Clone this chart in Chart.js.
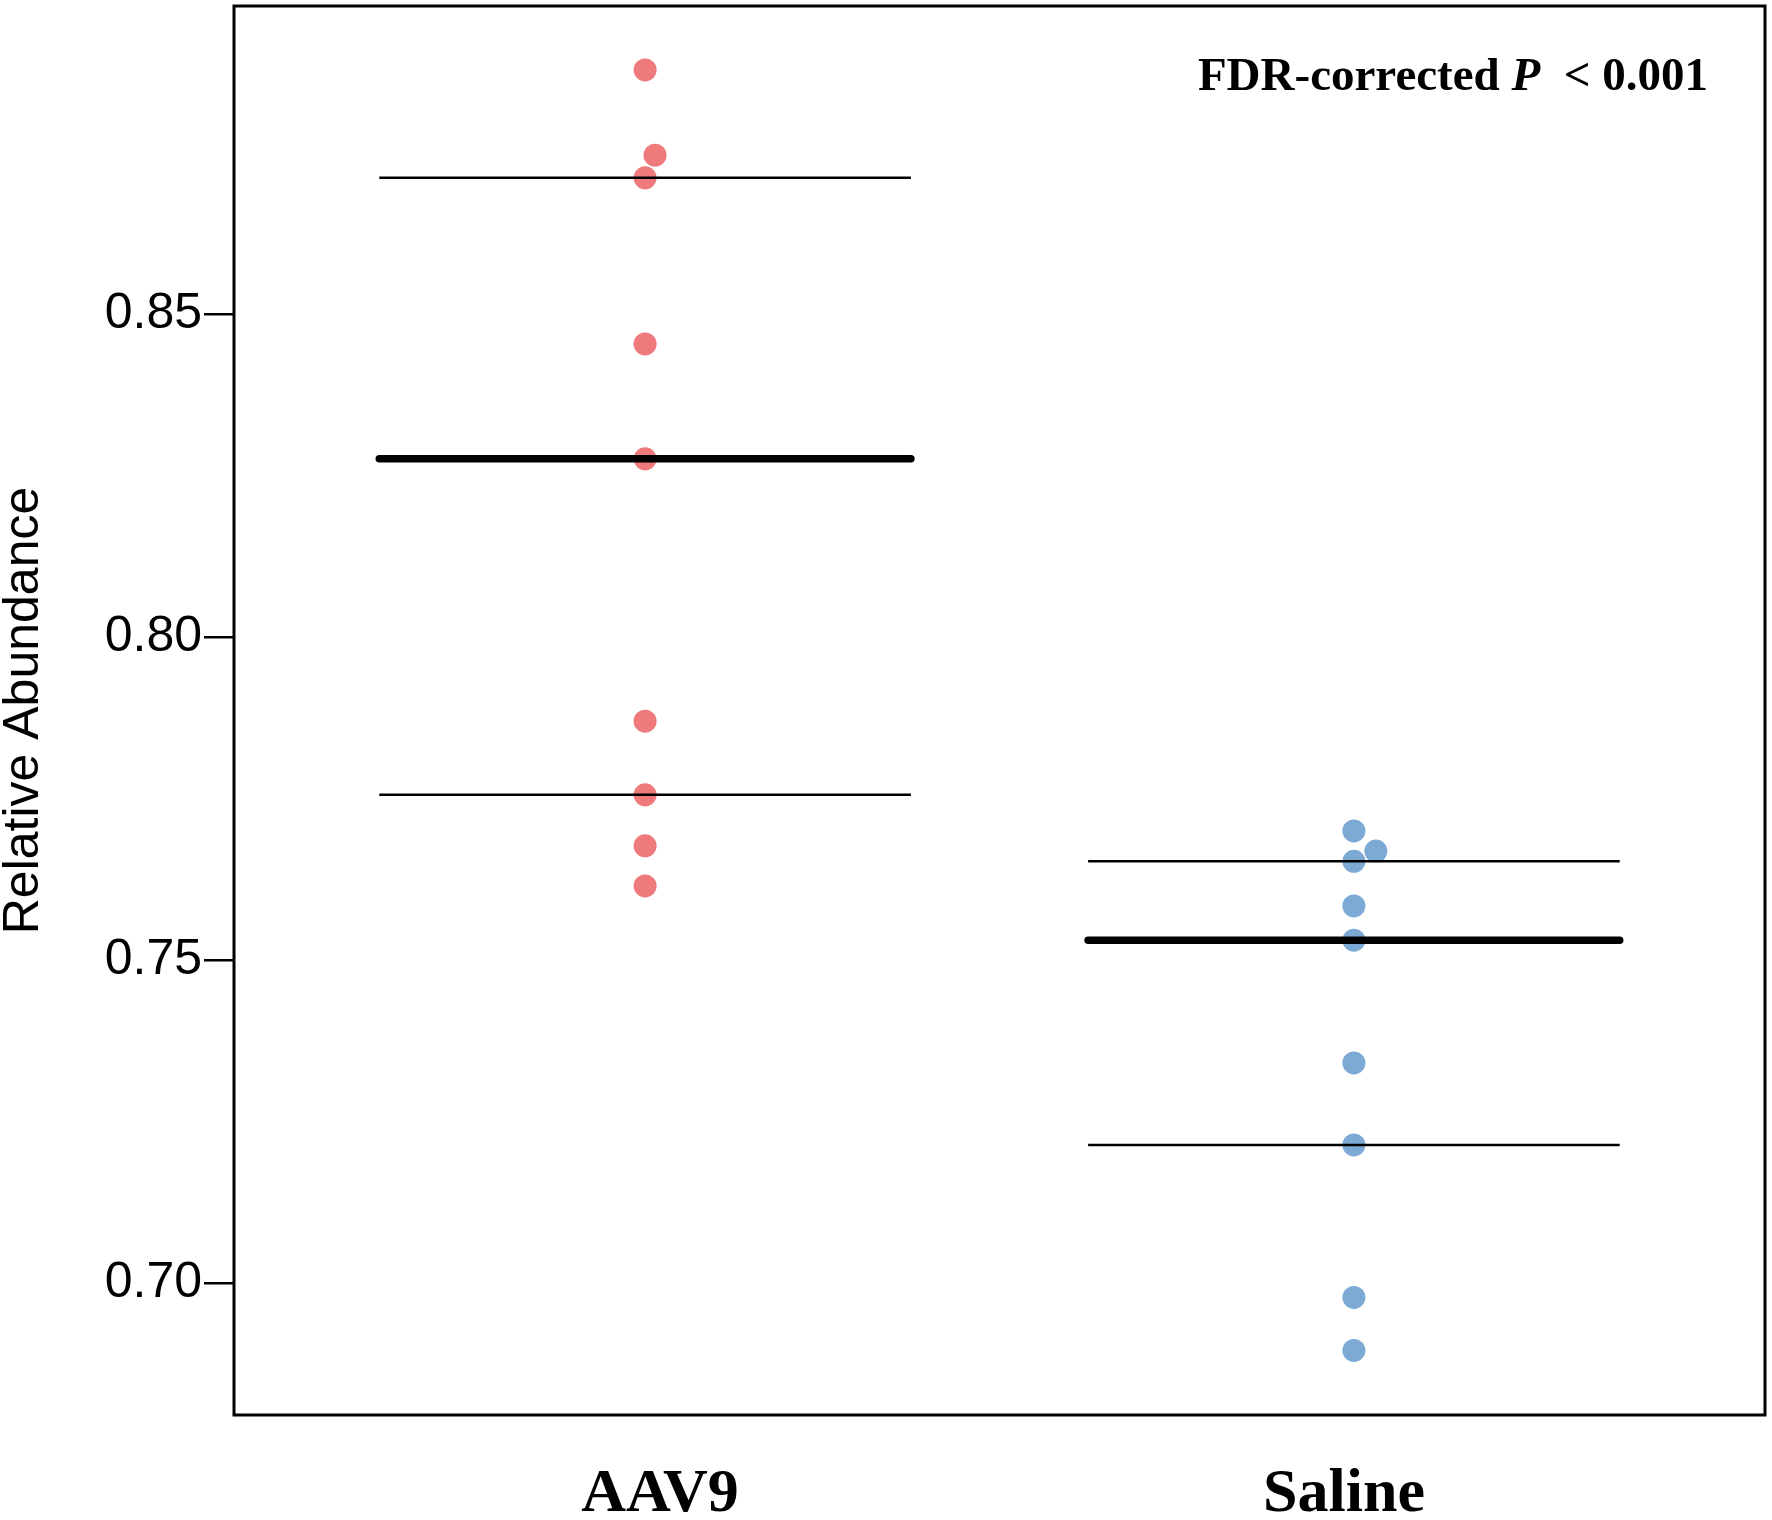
<!DOCTYPE html>
<html><head><meta charset="utf-8">
<script src="https://cdn.jsdelivr.net/npm/chart.js@4"></script>
<style>html,body{margin:0;padding:0;background:#fff}canvas{display:block}</style>
</head><body>
<canvas id="c" width="1772" height="1520"></canvas>
<script>
// ---- data ----
const groups = ['AAV9', 'Saline'];
const groupPos = [1, 2];
const labelPos = [1.021, 1.986];
const aav9Values = [0.8878, 0.8746, 0.8711, 0.8454, 0.8276, 0.7870, 0.7756, 0.7677, 0.7615];
const aav9Offsets = [0, 0.014, 0, 0, 0, 0, 0, 0, 0];
const salineValues = [0.7700, 0.7669, 0.7653, 0.7584, 0.7531, 0.7341, 0.7214, 0.6978, 0.6896];
const salineOffsets = [0, 0.031, 0, 0, 0, 0, 0, 0, 0];
const upperLines = [0.8711, 0.7653];
const medianLines = [0.8276, 0.7531];
const lowerLines = [0.7756, 0.7214];
const yTicks = [0.70, 0.75, 0.80, 0.85];
const annotation = ['FDR-corrected ', 'P', '  < 0.001'];

const halfLen = 0.375;
const colors = ['rgb(239,122,123)', 'rgb(125,170,212)'];
const valueSets = [aav9Values, salineValues];
const offsetSets = [aav9Offsets, salineOffsets];

const datasets = [];
function seg(g, v, w, cap) {
  return {
    type: 'line',
    data: [{x: groupPos[g] - halfLen, y: v}, {x: groupPos[g] + halfLen, y: v}],
    borderColor: '#000', borderWidth: w, borderCapStyle: cap,
    pointRadius: 0, fill: false, order: 0
  };
}
for (let g = 0; g < groups.length; g++) {
  datasets.push(seg(g, upperLines[g], 2.5, 'butt'));
  datasets.push(seg(g, lowerLines[g], 2.5, 'butt'));
  datasets.push(seg(g, medianLines[g], 7.5, 'round'));
}
for (let g = 0; g < groups.length; g++) {
  datasets.push({
    type: 'scatter',
    label: groups[g],
    data: valueSets[g].map((v, i) => ({x: groupPos[g] + offsetSets[g][i], y: v})),
    backgroundColor: colors[g], borderWidth: 0, pointRadius: 11.5, order: 1
  });
}

const boxPlugin = {
  id: 'boxAndText',
  afterDraw(chart) {
    const {ctx, chartArea: a} = chart;
    ctx.save();
    ctx.strokeStyle = '#000';
    ctx.lineWidth = 3;
    ctx.strokeRect(a.left, a.top, a.right - a.left, a.bottom - a.top);
    const fonts = ['bold 47px "Liberation Serif"', 'italic bold 47px "Liberation Serif"', 'bold 47px "Liberation Serif"'];
    let widths = annotation.map((t, i) => { ctx.font = fonts[i]; return ctx.measureText(t).width; });
    const total = widths.reduce((s, w) => s + w, 0);
    let x = a.right - 57 - total;
    const y = a.top + 84;
    ctx.fillStyle = '#000';
    ctx.textBaseline = 'alphabetic';
    ctx.textAlign = 'left';
    annotation.forEach((t, i) => { ctx.font = fonts[i]; ctx.fillText(t, x, y); x += widths[i]; });
    ctx.restore();
  }
};

new Chart(document.getElementById('c'), {
  data: {datasets},
  options: {
    responsive: false, animation: false, devicePixelRatio: 1,
    layout: {autoPadding: false, padding: {top: 6, right: 7, left: 0, bottom: 0}},
    plugins: {legend: {display: false}, tooltip: {enabled: false}},
    scales: {
      x: {
        type: 'linear', min: 0.42, max: 2.58,
        afterBuildTicks: s => { s.ticks = labelPos.map(v => ({value: v})); },
        afterFit: s => { s.height = 105; s.paddingLeft = 0; s.paddingRight = 0; },
        grid: {display: false, drawTicks: false},
        border: {display: false},
        ticks: {
          padding: 43, color: '#000',
          font: {family: '"Liberation Serif"', size: 62, weight: 'bold'},
          callback: (v) => { const i = labelPos.indexOf(v); return i >= 0 ? groups[i] : ''; }
        }
      },
      y: {
        type: 'linear', min: 0.6796, max: 0.8977,
        afterBuildTicks: s => { s.ticks = yTicks.map(v => ({value: v})); },
        afterFit: s => { s.width = 234; s.paddingTop = 0; s.paddingBottom = 0; },
        grid: {drawOnChartArea: false, drawTicks: true, tickLength: 30, color: '#000', lineWidth: 2.5},
        border: {display: false},
        ticks: {
          padding: 2, color: '#000',
          font: {family: '"Liberation Sans"', size: 50},
          callback: v => v.toFixed(2)
        },
        title: {
          display: true, text: 'Relative Abundance', color: '#000',
          font: {family: '"Liberation Sans"', size: 50, lineHeight: 0.96},
          padding: {top: 0, bottom: 0}
        }
      }
    }
  },
  plugins: [boxPlugin]
});
</script>
</body></html>
